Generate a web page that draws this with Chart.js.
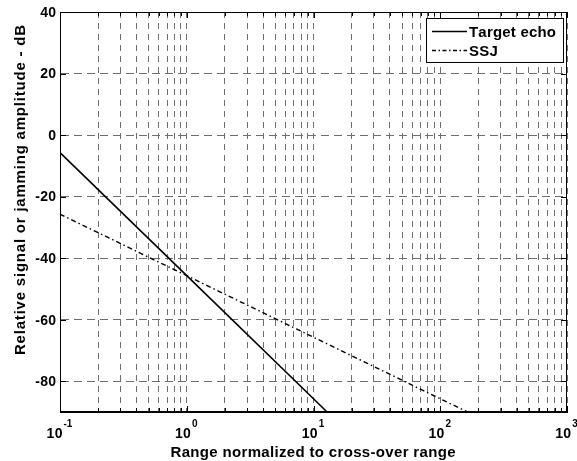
<!DOCTYPE html>
<html>
<head>
<meta charset="utf-8">
<script src="https://cdn.jsdelivr.net/npm/chart.js@4/dist/chart.umd.min.js"></script>
<style>
  body { margin: 0; background: #fff; }
  canvas { display: block; }
</style>
</head>
<body>
<canvas id="grafico" width="577" height="461"></canvas>
<script>
// Valores (dB em função do alcance normalizado)
const alcanceEco = [0.1, 1, 10, 12.8];
const ecoAlvo = [-5.7, -45.7, -85.7, -90];
const alcanceSSJ = [0.1, 1, 10, 100, 164];
const sinalSSJ = [-25.7, -45.7, -65.7, -85.7, -90];

const rotulosSeries = ['Target echo', 'SSJ'];
const ticksY = [-80, -60, -40, -20, 0, 20, 40];
const decadasX = [0.1, 1, 10, 100, 1000];
const expoentesX = ['-1', '0', '1', '2', '3'];

const familia = '"Liberation Sans", Arial, sans-serif';
const fonte = 'bold 14px ' + familia;
const fonteTitulo = 'bold 15px ' + familia;
const fonteExp = 'bold 10px ' + familia;

// Todos os ticks do eixo log (principais e secundários)
const ticksX = [];
decadasX.forEach((d, i) => {
  if (i === decadasX.length - 1) { ticksX.push(d); return; }
  for (let k = 1; k < 10; k++) ticksX.push(+(d * k).toPrecision(3));
});

// Escreve texto letra a letra com espaçamento extra (fonte do MATLAB é mais larga)
function textoEspacado(ctx, txt, x, y, esp) {
  let w = 0;
  for (const c of txt) w += ctx.measureText(c).width + esp;
  w -= esp;
  let cx = ctx.textAlign === 'center' ? x - w / 2 : ctx.textAlign === 'right' ? x - w : x;
  const alinh = ctx.textAlign;
  ctx.textAlign = 'left';
  for (const c of txt) {
    ctx.fillText(c, cx, y);
    cx += ctx.measureText(c).width + esp;
  }
  ctx.textAlign = alinh;
}

// Espaçamento necessário para o texto ocupar uma largura
function espacoPara(ctx, txt, largura) {
  const w = ctx.measureText(txt).width;
  return Math.max(0, (largura - w) / (txt.length - 1));
}

// Plugin que desenha moldura, ticks internos, rótulos e legenda no estilo MATLAB
const estiloMatlab = {
  id: 'estiloMatlab',
  afterDraw(chart) {
    const { ctx, chartArea: a, scales } = chart;
    const sx = scales.x, sy = scales.y;
    ctx.save();
    ctx.strokeStyle = '#000';
    ctx.lineWidth = 1;
    ctx.setLineDash([]);

    // moldura
    ctx.strokeRect(a.left + 0.5, a.top + 0.5, a.right - a.left - 1, a.bottom - a.top - 1);

    // ticks internos
    ctx.beginPath();
    ticksX.forEach((v) => {
      const px = Math.round(sx.getPixelForValue(v)) + 0.5;
      const len = decadasX.includes(v) ? 6 : 4;
      ctx.moveTo(px, a.bottom); ctx.lineTo(px, a.bottom - len);
      ctx.moveTo(px, a.top); ctx.lineTo(px, a.top + len);
    });
    ticksY.forEach((v) => {
      const py = Math.round(sy.getPixelForValue(v)) + 0.5;
      ctx.moveTo(a.left, py); ctx.lineTo(a.left + 6, py);
      ctx.moveTo(a.right, py); ctx.lineTo(a.right - 6, py);
    });
    ctx.stroke();

    // rótulos do eixo Y
    ctx.fillStyle = '#000';
    ctx.font = fonte;
    ctx.textAlign = 'right';
    ctx.textBaseline = 'middle';
    ticksY.forEach((v) => textoEspacado(ctx, String(v), a.left - 4, sy.getPixelForValue(v) + 1, 0.3));

    // rótulos do eixo X (10 com expoente)
    ctx.textBaseline = 'alphabetic';
    ctx.textAlign = 'left';
    decadasX.forEach((v, i) => {
      const px = sx.getPixelForValue(v);
      ctx.font = fonte;
      const w10 = ctx.measureText('10').width + 0.3;
      ctx.font = fonteExp;
      const wExp = ctx.measureText(expoentesX[i]).width;
      const x0 = px - (w10 + wExp) / 2 - 1;
      ctx.font = fonte;
      textoEspacado(ctx, '10', x0, a.bottom + 26, 0.3);
      ctx.font = fonteExp;
      ctx.fillText(expoentesX[i], x0 + w10 + 1, a.bottom + 15);
    });

    // títulos dos eixos
    ctx.font = fonteTitulo;
    ctx.textAlign = 'center';
    const tituloX = 'Range normalized to cross-over range';
    textoEspacado(ctx, tituloX, 313, a.bottom + 45, espacoPara(ctx, tituloX, 285));
    const tituloY = 'Relative signal or jamming amplitude - dB';
    ctx.save();
    ctx.translate(25, 190);
    ctx.rotate(-Math.PI / 2);
    textoEspacado(ctx, tituloY, 0, 0, espacoPara(ctx, tituloY, 330));
    ctx.restore();

    // legenda
    const lx = 426, ly = 18, lw = 137, lh = 44;
    ctx.fillStyle = '#fff';
    ctx.fillRect(lx, ly, lw, lh);
    ctx.strokeStyle = '#000';
    ctx.strokeRect(lx + 0.5, ly + 0.5, lw, lh);
    const estilos = [[], [4, 2.5, 1.5, 2.5]];
    ctx.font = fonteTitulo;
    ctx.textBaseline = 'middle';
    rotulosSeries.forEach((txt, i) => {
      const yy = ly + 13.5 + i * 19;
      ctx.setLineDash(estilos[i]);
      ctx.lineWidth = 1.5;
      ctx.beginPath();
      ctx.moveTo(lx + 6, yy); ctx.lineTo(lx + 41, yy);
      ctx.stroke();
      ctx.setLineDash([]);
      ctx.fillStyle = '#000';
      ctx.textAlign = 'left';
      textoEspacado(ctx, txt, lx + 43, yy + 1, 0.2);
    });
    ctx.restore();
  },
};

new Chart(document.getElementById('grafico').getContext('2d'), {
  type: 'line',
  data: {
    datasets: [
      {
        label: rotulosSeries[0],
        data: alcanceEco.map((x, i) => ({ x, y: ecoAlvo[i] })),
        borderColor: '#000',
        borderWidth: 1.6,
        pointRadius: 0,
        fill: false,
      },
      {
        label: rotulosSeries[1],
        data: alcanceSSJ.map((x, i) => ({ x, y: sinalSSJ[i] })),
        borderColor: '#000',
        borderWidth: 1.4,
        borderDash: [5, 3, 1.5, 3],
        pointRadius: 0,
        fill: false,
      },
    ],
  },
  options: {
    responsive: false,
    animation: false,
    layout: { padding: { left: 60, top: 12, right: 10, bottom: 49 } },
    plugins: { legend: { display: false }, tooltip: { enabled: false } },
    scales: {
      x: {
        type: 'logarithmic',
        min: 0.1,
        max: 1000,
        afterBuildTicks: (s) => { s.ticks = ticksX.map((value) => ({ value })); },
        ticks: { display: false },
        grid: { color: '#6e6e6e', drawTicks: false, lineWidth: 1 },
        border: { display: true, color: '#000', dash: [6, 5] },
      },
      y: {
        type: 'linear',
        min: -90,
        max: 40,
        afterBuildTicks: (s) => { s.ticks = ticksY.map((value) => ({ value })); },
        ticks: { display: false },
        grid: { color: '#6e6e6e', drawTicks: false, lineWidth: 1 },
        border: { display: true, color: '#000', dash: [8, 5] },
      },
    },
  },
  plugins: [estiloMatlab],
});
</script>
</body>
</html>
